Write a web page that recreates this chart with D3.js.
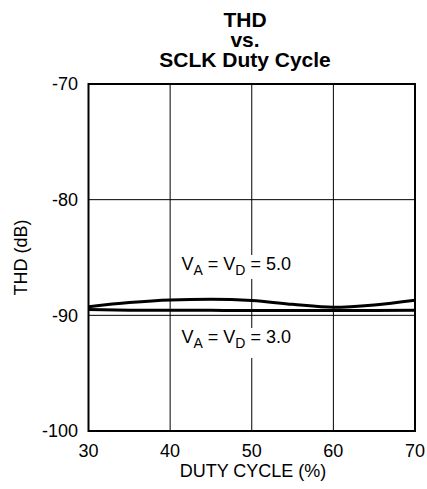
<!DOCTYPE html>
<html><head><meta charset="utf-8">
<script src="https://cdn.jsdelivr.net/npm/d3@7"></script>
<style>body{margin:0;background:#fff}svg{display:block}text{font-family:Arial,"Liberation Sans",sans-serif}</style>
</head><body>
<svg id="c" width="427" height="489"></svg>
<script>
const titleLines = ["THD", "vs.", "SCLK Duty Cycle"];
const xTicks = [30, 40, 50, 60, 70];
const yTicks = [-70, -80, -90, -100];
const dutyCycle = [30, 35, 40, 45, 50, 55, 60, 65, 70];
const thd5V = [-89.25, -88.9, -88.68, -88.62, -88.72, -89.05, -89.3, -89.1, -88.7];
const thd3V = [-89.5, -89.55, -89.56, -89.57, -89.58, -89.58, -89.58, -89.58, -89.56];
const seriesLabels = [{sub1:"A", sub2:"D", val:"5.0", x:48.1, y:-86.08}, {sub1:"A", sub2:"D", val:"3.0", x:48.1, y:-92.39}];

const svg = d3.select("#c");
const L = 88.5, R = 415, T = 84, B = 431;
const x = d3.scaleLinear().domain([30, 70]).range([L, R]);
const y = d3.scaleLinear().domain([-100, -70]).range([B, T]);

// title (one text block, three lines)
svg.append("text").attr("y", 27)
  .attr("text-anchor", "middle").attr("font-weight", "bold").attr("font-size", 21)
  .selectAll("tspan").data(titleLines).join("tspan")
  .attr("x", 245).attr("dy", (d, i) => i === 0 ? 0 : 20)
  .text(d => d);

// grid
const g = svg.append("g");
g.selectAll(".gx").data(xTicks.slice(1, -1)).join("line")
  .attr("x1", d => x(d)).attr("x2", d => x(d)).attr("y1", T).attr("y2", B)
  .attr("stroke", "#000").attr("stroke-width", 1);
g.selectAll(".gy").data(yTicks.slice(1, -1)).join("line")
  .attr("x1", L).attr("x2", R).attr("y1", d => y(d)).attr("y2", d => y(d))
  .attr("stroke", "#000").attr("stroke-width", 1);

// labels with white backgrounds
const lab = svg.append("g");
seriesLabels.forEach((s, i) => {
  const by = y(s.y);
  const t = lab.append("text").attr("x", x(s.x)).attr("y", by)
    .attr("text-anchor", "middle").attr("font-size", 18);
  t.append("tspan").text("V");
  t.append("tspan").attr("font-size", 14).attr("dy", 5).text(s.sub1);
  t.append("tspan").attr("dy", -5).text(" = V");
  t.append("tspan").attr("font-size", 14).attr("dy", 5).text(s.sub2);
  t.append("tspan").attr("dy", -5).text(" = " + s.val);
  const bb = t.node().getBBox();
  lab.insert("rect", "text").attr("x", bb.x - 2).attr("y", by - 15)
    .attr("width", bb.width + 4).attr("height", i === 0 ? 24 : 30).attr("fill", "#fff");
});

// curves
const line = d3.line().x((d, i) => x(dutyCycle[i])).y(d => y(d)).curve(d3.curveMonotoneX);
[thd5V, thd3V].forEach(s => {
  svg.append("path").attr("d", line(s)).attr("fill", "none")
    .attr("stroke", "#000").attr("stroke-width", 3);
});

// frame
svg.append("rect").attr("x", L).attr("y", T).attr("width", R - L).attr("height", B - T)
  .attr("fill", "none").attr("stroke", "#000").attr("stroke-width", 2);

// axes labels
svg.append("g").selectAll("text").data(yTicks).join("text")
  .attr("x", 78).attr("y", d => y(d)).attr("dy", "0.36em")
  .attr("text-anchor", "end").attr("font-size", 18).text(d => d);
svg.append("g").selectAll("text").data(xTicks).join("text")
  .attr("x", d => x(d)).attr("y", 457)
  .attr("text-anchor", "middle").attr("font-size", 18).text(d => d);
svg.append("text").attr("x", 253).attr("y", 477).attr("text-anchor", "middle")
  .attr("font-size", 18).text("DUTY CYCLE (%)");
svg.append("text").attr("transform", `translate(27,${(T + B) / 2}) rotate(-90)`)
  .attr("text-anchor", "middle").attr("font-size", 18).text("THD (dB)");
</script>
</body></html>
